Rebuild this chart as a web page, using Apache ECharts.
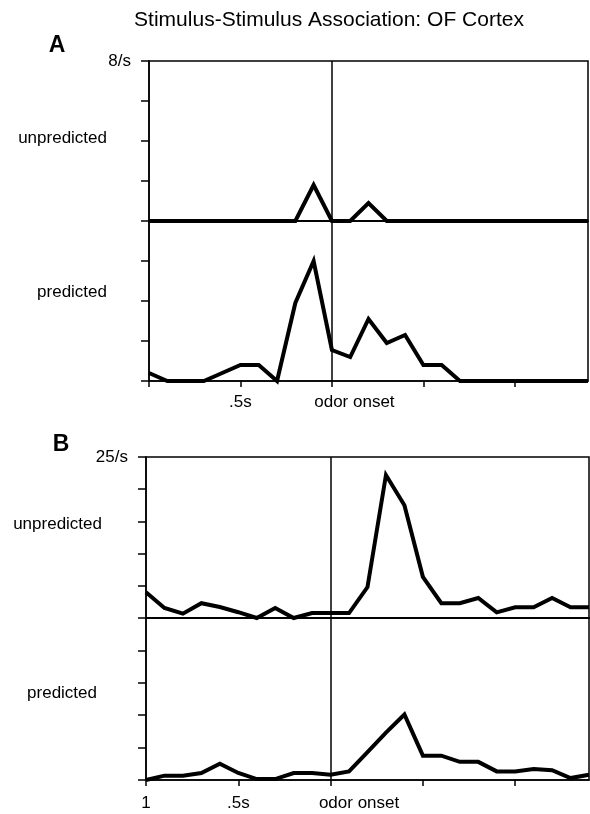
<!DOCTYPE html>
<html>
<head>
<meta charset="utf-8">
<script src="https://cdn.jsdelivr.net/npm/echarts@6.0.0/dist/echarts.min.js"></script>
<style>
  html, body { margin: 0; padding: 0; background: #fff; }
  #chart { width: 590px; height: 814px; }
</style>
</head>
<body>
<div id="chart"></div>
<script>
// time bins (s, relative to odor onset)
var timeBins = [-1.0, -0.9, -0.8, -0.7, -0.6, -0.5, -0.4, -0.3, -0.2, -0.1, 0.0, 0.1, 0.2,
                0.3, 0.4, 0.5, 0.6, 0.7, 0.8, 0.9, 1.0, 1.1, 1.2, 1.3, 1.4];

// A: firing rate (spikes/s)
var aUnpredicted = [0, 0, 0, 0, 0, 0, 0, 0, 0, 1.8, 0, 0, 0.9, 0, 0, 0, 0, 0, 0, 0, 0, 0, 0, 0, 0];
var aPredicted = [0.4, 0, 0, 0, 0.4, 0.8, 0.8, 0, 3.9, 6.0, 1.55, 1.2, 3.1, 1.9, 2.3, 0.8, 0.8,
                  0, 0, 0, 0, 0, 0, 0, 0];

// B: firing rate (spikes/s)
var bUnpredicted = [4.0, 1.55, 0.67, 2.3, 1.7, 0.9, 0, 1.55, 0, 0.77, 0.77, 0.77, 4.8, 22.2, 17.5,
                    6.4, 2.3, 2.3, 3.1, 0.87, 1.65, 1.65, 3.1, 1.65, 1.65];
var bPredicted = [0, 0.67, 0.67, 1.08, 2.5, 1.08, 0.15, 0.15, 1.08, 1.08, 0.82, 1.33, 4.3, 7.3, 10.1,
                  3.76, 3.76, 2.8, 2.8, 1.33, 1.33, 1.7, 1.5, 0.3, 0.8];

// tick labels
var xTickValues = [-1, -0.5, 0, 0.5, 1];
var aXTickLabels = ['', '.5s', 'odor onset', '', ''];
var bXTickLabels = ['1', '.5s', 'odor onset', '', ''];
var aYMax = 8, aYInterval = 2, aYTopLabel = '8/s';
var bYMax = 25, bYInterval = 5, bYTopLabel = '25/s';

var FONT = "'Liberation Sans', Arial, Helvetica, sans-serif";

function pairs(values) {
  return values.map(function (v, i) { return [timeBins[i], v]; });
}

function xLabelFormatter(labels) {
  return function (value) {
    for (var i = 0; i < xTickValues.length; i++) {
      if (Math.abs(xTickValues[i] - value) < 1e-6) {
        if (labels[i] === 'odor onset') return '{on|' + labels[i] + '}';
        return labels[i];
      }
    }
    return '';
  };
}

function gridBox(left, top, width, height) {
  return {
    left: left, top: top, width: width, height: height,
    show: true, borderColor: '#000', borderWidth: 1.5, backgroundColor: 'transparent'
  };
}

function topX(gridIndex) {
  return {
    type: 'value', gridIndex: gridIndex, min: -1, max: 1.4, interval: 0.5,
    axisLine: { show: true, onZero: false, lineStyle: { color: '#000', width: 1.5 } },
    axisTick: { show: false },
    axisLabel: { show: false },
    splitLine: { show: false }
  };
}

function bottomX(gridIndex, labels, margin, shift) {
  return {
    type: 'value', gridIndex: gridIndex, min: -1, max: 1.4, interval: 0.5,
    axisLine: { show: true, onZero: false, lineStyle: { color: '#000', width: 1.5 } },
    axisTick: { show: true, length: 6, customValues: xTickValues, lineStyle: { color: '#000', width: 1.5 } },
    axisLabel: {
      show: true, margin: margin, color: '#000', fontSize: 17, fontFamily: FONT,
      customValues: xTickValues,
      formatter: xLabelFormatter(labels),
      rich: { on: { color: '#000', fontSize: 17, fontFamily: FONT, padding: [0, 0, 0, shift] } }
    },
    splitLine: { show: false }
  };
}

function yAxisOf(gridIndex, max, interval, topLabel) {
  return {
    type: 'value', gridIndex: gridIndex, min: 0, max: max, interval: interval,
    axisLine: { show: true, onZero: false, lineStyle: { color: '#000', width: 1.5 } },
    axisTick: { show: true, length: 8, lineStyle: { color: '#000', width: 1.5 } },
    axisLabel: {
      show: true, margin: 18, color: '#000', fontSize: 17, fontFamily: FONT,
      formatter: function (v) { return (topLabel && v === max) ? topLabel : ''; }
    },
    splitLine: { show: false }
  };
}

function trace(index, values) {
  return {
    type: 'line', xAxisIndex: index, yAxisIndex: index,
    data: pairs(values), symbol: 'none', clip: false, silent: true,
    lineStyle: { color: '#000', width: 4, join: 'miter' },
    markLine: {
      silent: true, symbol: ['none', 'none'], label: { show: false },
      lineStyle: { color: '#000', width: 1.5, type: 'solid' },
      data: [{ xAxis: 0 }]
    }
  };
}

function textEl(str, x, y, size, align, weight) {
  return {
    type: 'text', x: x, y: y, silent: true,
    style: {
      text: str, fill: '#000', fontSize: size, fontFamily: FONT, fontWeight: weight || 'normal',
      align: align, verticalAlign: 'middle'
    }
  };
}

var chart = echarts.init(document.getElementById('chart'));
chart.setOption({
  animation: false,
  backgroundColor: '#fff',
  grid: [
    gridBox(149, 61, 439, 160),
    gridBox(149, 221, 439, 160),
    gridBox(146, 457, 443, 161),
    gridBox(146, 618, 443, 162)
  ],
  xAxis: [
    topX(0),
    bottomX(1, aXTickLabels, 13, 45),
    topX(2),
    bottomX(3, bXTickLabels, 15, 57)
  ],
  yAxis: [
    yAxisOf(0, aYMax, aYInterval, aYTopLabel),
    yAxisOf(1, aYMax, aYInterval, ''),
    yAxisOf(2, bYMax, bYInterval, bYTopLabel),
    yAxisOf(3, bYMax, bYInterval, '')
  ],
  series: [
    trace(0, aUnpredicted),
    trace(1, aPredicted),
    trace(2, bUnpredicted),
    trace(3, bPredicted)
  ],
  graphic: [
    textEl('Stimulus-Stimulus Association: OF Cortex', 329, 20, 21, 'center'),
    textEl('A', 57, 46, 23, 'center', 'bold'),
    textEl('B', 61, 445, 23, 'center', 'bold'),
    textEl('unpredicted', 107, 138, 17, 'right'),
    textEl('predicted', 107, 292, 17, 'right'),
    textEl('unpredicted', 102, 524, 17, 'right'),
    textEl('predicted', 97, 693, 17, 'right')
  ]
});
</script>
</body>
</html>
